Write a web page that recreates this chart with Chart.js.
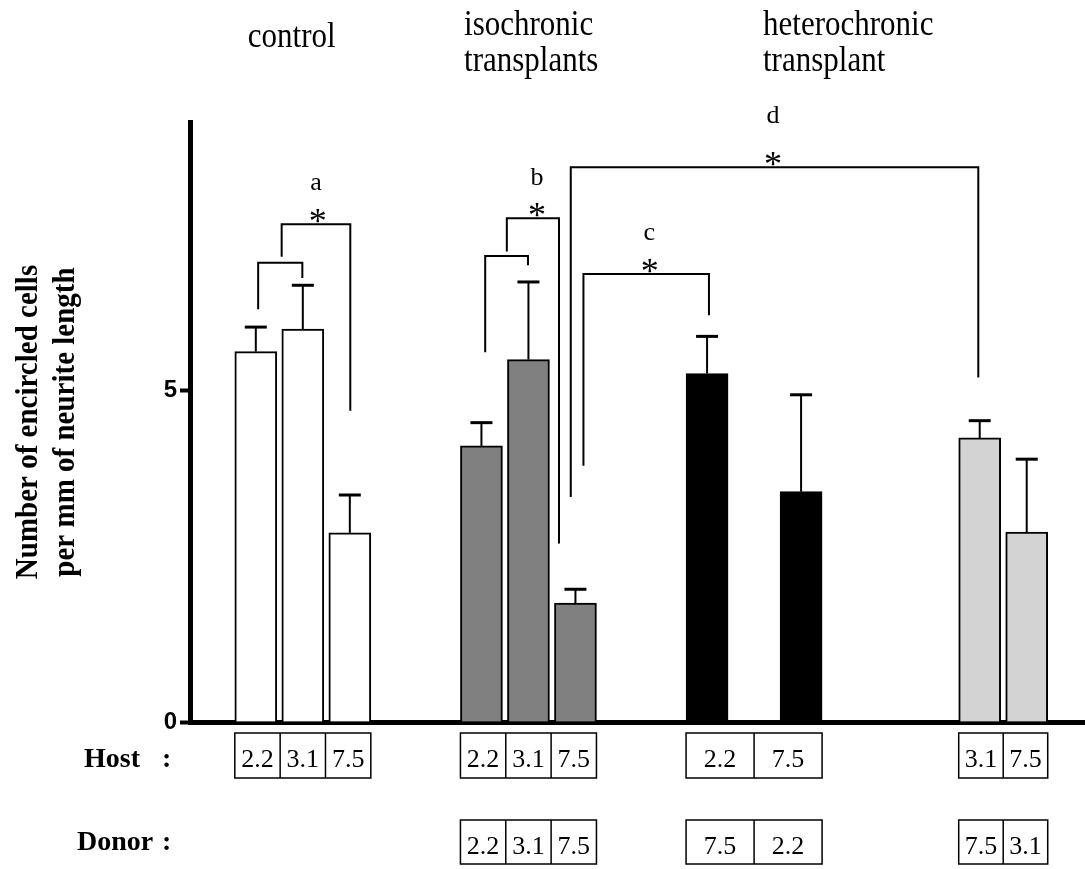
<!DOCTYPE html>
<html>
<head>
<meta charset="utf-8">
<script src="https://cdn.jsdelivr.net/npm/chart.js@4.4.1/dist/chart.umd.min.js"></script>
<style>
html, body { margin: 0; padding: 0; background: #fff; }
#c { display: block; }
</style>
</head>
<body>
<canvas id="c" width="1085" height="869"></canvas>
<script>
// 数据
var groupTitles = [['control'], ['isochronic', 'transplants'], ['heterochronic', 'transplant']];
var barGroup = [0, 0, 0, 1, 1, 1, 2, 2, 3, 3];
var barSlots = [1.4, 2.4, 3.4, 6.2, 7.2, 8.2, 11.0, 13.0, 16.8, 17.8];
var meanValues = [5.58, 5.92, 2.85, 4.16, 5.46, 1.79, 5.25, 3.47, 4.28, 2.86];
var errValues = [0.37, 0.66, 0.57, 0.35, 1.17, 0.21, 0.56, 1.46, 0.26, 1.10];
var hostAges = ['2.2', '3.1', '7.5', '2.2', '3.1', '7.5', '2.2', '7.5', '3.1', '7.5'];
var donorAges = ['', '', '', '2.2', '3.1', '7.5', '7.5', '2.2', '7.5', '3.1'];
var sigLetters = ['a', 'b', 'c', 'd'];
var yTickValues = [0, 5];
var yTitle = ['Number of encircled cells', 'per mm of neurite length'];

// 颜色
var groupFills = ['#ffffff', '#808080', '#000000', '#d3d3d3'];

// 标注位置（x 用槽位, y 用数值）
var brackets = [
    [[1.45, 6.22], [1.45, 6.92], [2.39, 6.92], [2.39, 6.69]],
    [[1.95, 7.01], [1.95, 7.50], [3.41, 7.50], [3.41, 4.69]],
    [[6.28, 5.57], [6.28, 7.02], [7.19, 7.02], [7.19, 6.88]],
    [[6.74, 7.09], [6.74, 7.59], [7.85, 7.59], [7.85, 2.69]],
    [[8.37, 3.86], [8.37, 6.75], [11.04, 6.75], [11.04, 6.13]],
    [[8.10, 3.39], [8.10, 8.36], [16.77, 8.36], [16.77, 5.19]]
];
var starPos = [[2.72, 7.50], [7.38, 7.59], [9.78, 6.75], [12.40, 8.36]];
var letterPos = [[2.68, 8.01], [7.38, 8.09], [9.77, 7.26], [12.40, 9.02]];
var titlePos = [1.23, 5.83, 12.19];

var BAR_W = 42;
var SERIF = '"Liberation Serif", "Times New Roman", serif';

function groupRange(g) {
    var first = -1, last = -1;
    for (var i = 0; i < barGroup.length; i++) {
        if (barGroup[i] === g) {
            if (first < 0) first = i;
            last = i;
        }
    }
    return [first, last];
}

// 纵向拉伸的文字（原图字体偏窄偏高）
function tallText(ctx, text, x, y, sy) {
    ctx.save();
    ctx.translate(x, y);
    ctx.scale(1, sy);
    ctx.fillText(text, 0, 0);
    ctx.restore();
}

var overlay = {
    id: 'overlay',
    afterDatasetsDraw: function (chart) {
        var ctx = chart.ctx, ys = chart.scales.y;
        var meta = chart.getDatasetMeta(0);
        ctx.save();
        ctx.strokeStyle = '#000';
        meta.data.forEach(function (bar, i) {
            var yTop = ys.getPixelForValue(meanValues[i] + errValues[i]);
            ctx.lineWidth = 2;
            ctx.beginPath();
            ctx.moveTo(bar.x, bar.y);
            ctx.lineTo(bar.x, yTop);
            ctx.stroke();
            ctx.lineWidth = 3;
            ctx.beginPath();
            ctx.moveTo(bar.x - 11, yTop);
            ctx.lineTo(bar.x + 11, yTop);
            ctx.stroke();
        });
        ctx.restore();
    },
    afterDraw: function (chart) {
        var ctx = chart.ctx, xs = chart.scales.x, ys = chart.scales.y;
        var area = chart.chartArea;
        ctx.save();
        ctx.fillStyle = '#000';
        ctx.strokeStyle = '#000';

        // 显著性括号
        ctx.lineWidth = 2;
        brackets.forEach(function (pts) {
            ctx.beginPath();
            pts.forEach(function (p, k) {
                var px = xs.getPixelForValue(p[0]), py = ys.getPixelForValue(p[1]);
                if (k === 0) ctx.moveTo(px, py); else ctx.lineTo(px, py);
            });
            ctx.stroke();
        });

        // 星号
        ctx.font = '36px ' + SERIF;
        ctx.textAlign = 'center';
        ctx.textBaseline = 'alphabetic';
        var m = ctx.measureText('*');
        var lift = -m.actualBoundingBoxDescent;
        starPos.forEach(function (p) {
            ctx.fillText('*', xs.getPixelForValue(p[0]), ys.getPixelForValue(p[1]) - 1 + lift);
        });

        // 字母
        ctx.font = '26px ' + SERIF;
        sigLetters.forEach(function (t, i) {
            ctx.fillText(t, xs.getPixelForValue(letterPos[i][0]), ys.getPixelForValue(letterPos[i][1]));
        });

        // 组标题
        ctx.font = '31px ' + SERIF;
        ctx.textAlign = 'left';
        groupTitles.forEach(function (lines, g) {
            var x = xs.getPixelForValue(titlePos[g]);
            if (lines.length === 1) {
                tallText(ctx, lines[0], x, 47, 1.18);
            } else {
                tallText(ctx, lines[0], x, 35, 1.18);
                tallText(ctx, lines[1], x, 71, 1.18);
            }
        });

        // y 轴标题
        ctx.font = 'bold 29px ' + SERIF;
        ctx.textAlign = 'center';
        var cy = (area.top + area.bottom) / 2;
        ctx.save();
        ctx.translate(37, cy);
        ctx.rotate(-Math.PI / 2);
        tallText(ctx, yTitle[0], 0, 0, 1.08);
        tallText(ctx, yTitle[1], 0, 37, 1.08);
        ctx.restore();

        // Host / Donor 表格
        ctx.font = 'bold 28px ' + SERIF;
        ctx.textAlign = 'left';
        ctx.fillText('Host', 84, area.bottom + 45);
        ctx.fillText(':', 162, area.bottom + 45);
        ctx.fillText('Donor', 77, area.bottom + 128);
        ctx.fillText(':', 162, area.bottom + 128);

        var rows = [
            { vals: hostAges, top: area.bottom + 11, h: 45, base: area.bottom + 45 },
            { vals: donorAges, top: area.bottom + 98, h: 44, base: area.bottom + 132 }
        ];
        ctx.lineWidth = 1.5;
        ctx.font = '26px ' + SERIF;
        ctx.textAlign = 'center';
        for (var g = 0; g < 4; g++) {
            var r = groupRange(g);
            var left = xs.getPixelForValue(barSlots[r[0]]) - BAR_W / 2;
            var right = xs.getPixelForValue(barSlots[r[1]]) + BAR_W / 2;
            var n = r[1] - r[0] + 1;
            var cw = (right - left) / n;
            rows.forEach(function (row) {
                if (!row.vals[r[0]]) return;
                ctx.strokeRect(left, row.top, right - left, row.h);
                for (var k = 0; k < n; k++) {
                    if (k > 0) {
                        ctx.beginPath();
                        ctx.moveTo(left + cw * k, row.top);
                        ctx.lineTo(left + cw * k, row.top + row.h);
                        ctx.stroke();
                    }
                    ctx.fillText(row.vals[r[0] + k], left + cw * (k + 0.5), row.base);
                }
            });
        }
        ctx.restore();
    }
};

var barData = barSlots.map(function (s, i) { return { x: s, y: meanValues[i] }; });

new Chart(document.getElementById('c').getContext('2d'), {
    type: 'bar',
    data: {
        datasets: [{
            data: barData,
            backgroundColor: barGroup.map(function (g) { return groupFills[g]; }),
            borderColor: '#000',
            borderWidth: 2,
            barThickness: BAR_W
        }]
    },
    options: {
        responsive: false,
        devicePixelRatio: 1,
        animation: false,
        layout: { padding: { top: 122, right: 0, left: 0, bottom: 0 } },
        plugins: {
            legend: { display: false },
            tooltip: { enabled: false }
        },
        scales: {
            x: {
                type: 'linear',
                min: 0,
                max: 19.04,
                offset: false,
                z: 1,
                grid: { display: false },
                ticks: { display: false },
                border: { display: true, color: '#000', width: 5 },
                afterFit: function (scale) { scale.height = 147; }
            },
            y: {
                min: 0,
                max: 9.04,
                z: 1,
                afterBuildTicks: function (scale) {
                    scale.ticks = yTickValues.map(function (v) { return { value: v }; });
                },
                grid: {
                    drawOnChartArea: false,
                    drawTicks: true,
                    tickLength: 10,
                    tickWidth: 4,
                    tickColor: '#000'
                },
                border: { display: true, color: '#000', width: 5 },
                ticks: {
                    color: '#000',
                    padding: 3,
                    font: { family: '"Liberation Sans", Arial, sans-serif', size: 24, weight: 'bold' },
                    callback: function (v) { return String(v); }
                },
                afterFit: function (scale) { scale.width = 190; }
            }
        }
    },
    plugins: [overlay]
});
</script>
</body>
</html>
